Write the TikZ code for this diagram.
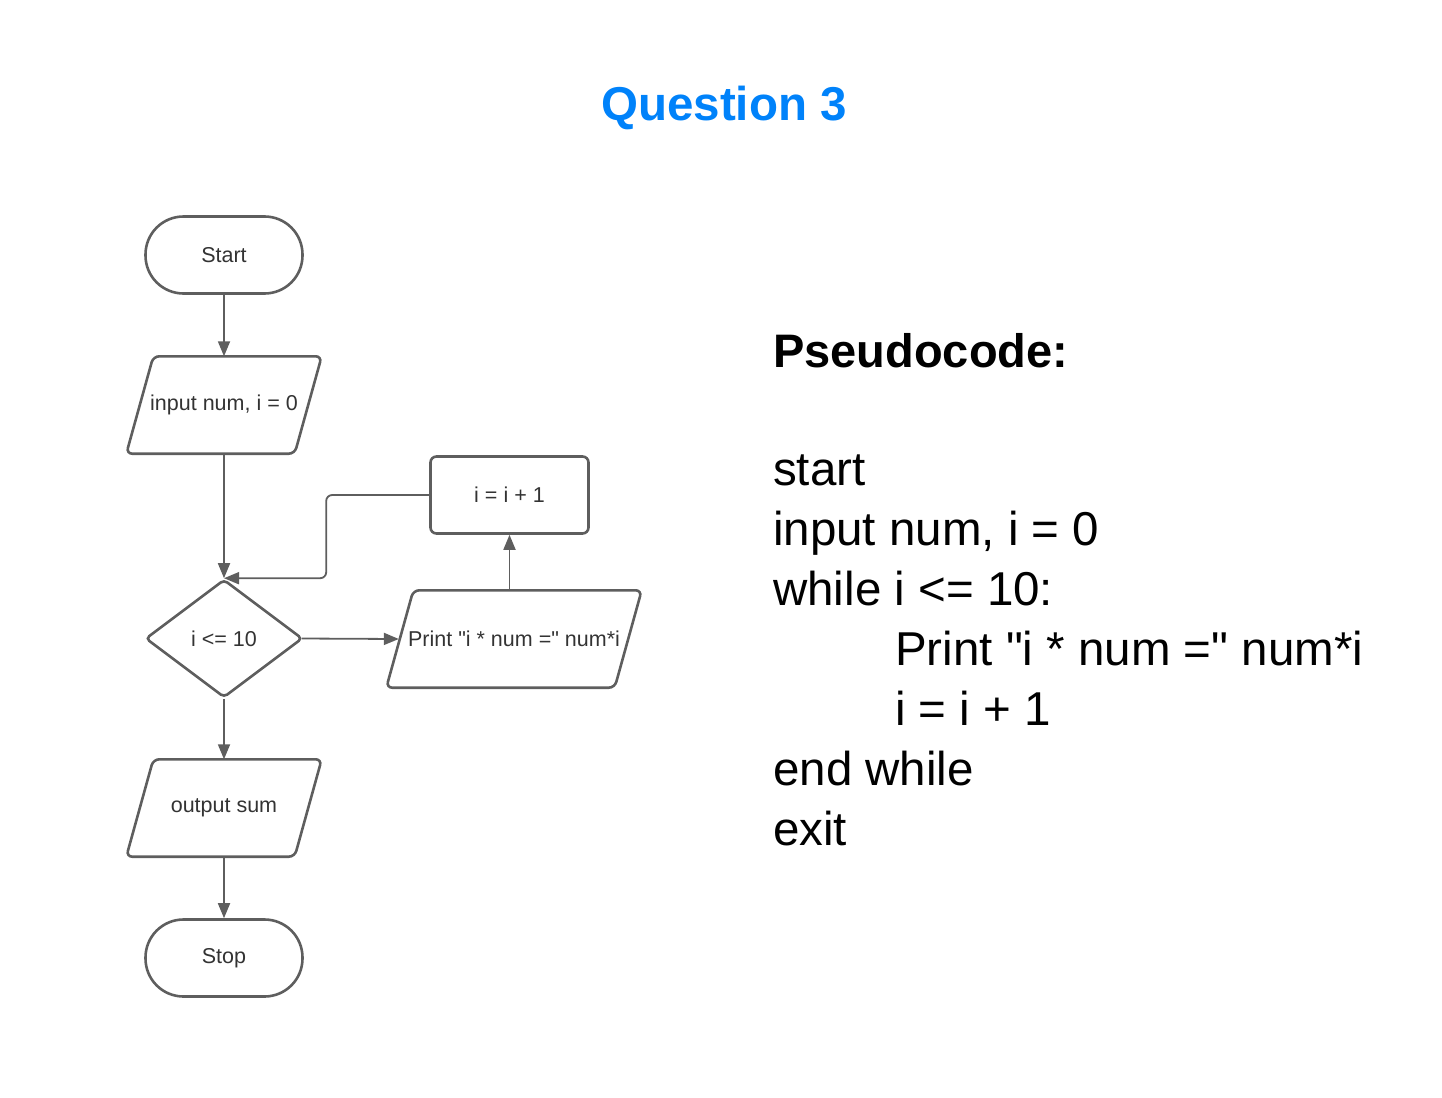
\documentclass[tikz,border=0pt]{standalone}
\usepackage{fontspec}
\setmainfont{Liberation Sans}[Ligatures=TeXOff]
\usetikzlibrary{arrows.meta,shapes.geometric,calc}
\definecolor{lc}{HTML}{5E5E5E}
\definecolor{tc}{HTML}{333333}
\definecolor{qblue}{RGB}{0,130,250}
\begin{document}
\begin{tikzpicture}[x=1pt,y=-1pt,
  shp/.style={draw=lc, line width=2.6pt},
  lbl/.style={text=tc, font=\fontsize{21.5}{26}\selectfont, inner sep=0pt},
  term/.style={shp, lbl, rectangle, rounded corners=38pt, minimum width=157pt, minimum height=77pt},
  procbox/.style={shp, lbl, rectangle, rounded corners=6pt, minimum width=158pt, minimum height=77pt},
  decide/.style={shp, lbl, diamond, rounded corners=4pt, minimum width=157pt, minimum height=118pt},
  iobox/.style={lbl},
  conn/.style={draw=lc, line width=1.8pt, -{Triangle[length=15pt,width=12pt]}},
  code/.style={anchor=base west, inner sep=0pt, font=\fontsize{47.5}{56}\selectfont, text=black},
]
\useasboundingbox (0,0) rectangle (1442,1097);

% title
\node[anchor=base, inner sep=0pt, text=qblue, font=\fontsize{47.5}{56}\selectfont\bfseries] (title) at (724,121) {Question 3};

% flowchart nodes
\node[term] (start) at (224,255) {Start};
\node[iobox, minimum width=195pt, minimum height=97pt] (inp) at (224,405) {input num, i = 0};
\node[decide] (dia) at (224,638.5) {i <= 10};
\node[procbox] (inc) at (509.5,495) {i = i + 1};
\node[iobox, minimum width=255pt, minimum height=97pt] (prt) at (514,639) {Print "i * num =" num*i};
\node[iobox, minimum width=195pt, minimum height=97pt] (out) at (224,808) {output sum};
\node[term] (stop) at (224,958) {Stop};

% parallelogram outlines
\foreach \n in {inp,prt,out}{
  \draw[shp, rounded corners=6pt] ($(\n.north west)+(27,0)$) -- (\n.north east) -- ($(\n.south east)-(27,0)$) -- (\n.south west) -- cycle;
}

\coordinate (prtL) at ($(prt.west)+(12.5,0)$);
\coordinate (bend) at ($(inc.west)+(-103,0)$);
\coordinate (diaE) at ($(dia.east)+(-2,0)$);

% connectors
\draw[conn] (start.south) -- (inp.north);
\draw[conn] (inp.south) -- (dia.north);
\draw[conn, rounded corners=6pt] (inc.west) -- (bend) |- (dia.north);
\draw[conn] (diaE) -- (prtL);
\draw[conn] (inc.south |- prt.north) -- (inc.south);
\draw[conn] (dia.south) -- (out.north);
\draw[conn] (out.south) -- (stop.north);

% pseudocode
\node[code, font=\fontsize{47}{56}\selectfont\bfseries] (ph) at (773,367) {Pseudocode:};
\node[code] (l1) at (773,485) {start};
\node[code] (l2) at (773,545) {input num, i = 0};
\node[code] (l3) at (773,605) {while i <= 10:};
\node[code] (l4) at (895,665) {Print "i * num =" num*i};
\node[code] (l5) at (895,725) {i = i + 1};
\node[code] (l6) at (773,785) {end while};
\node[code] (l7) at (773,845) {exit};
\end{tikzpicture}
\end{document}
